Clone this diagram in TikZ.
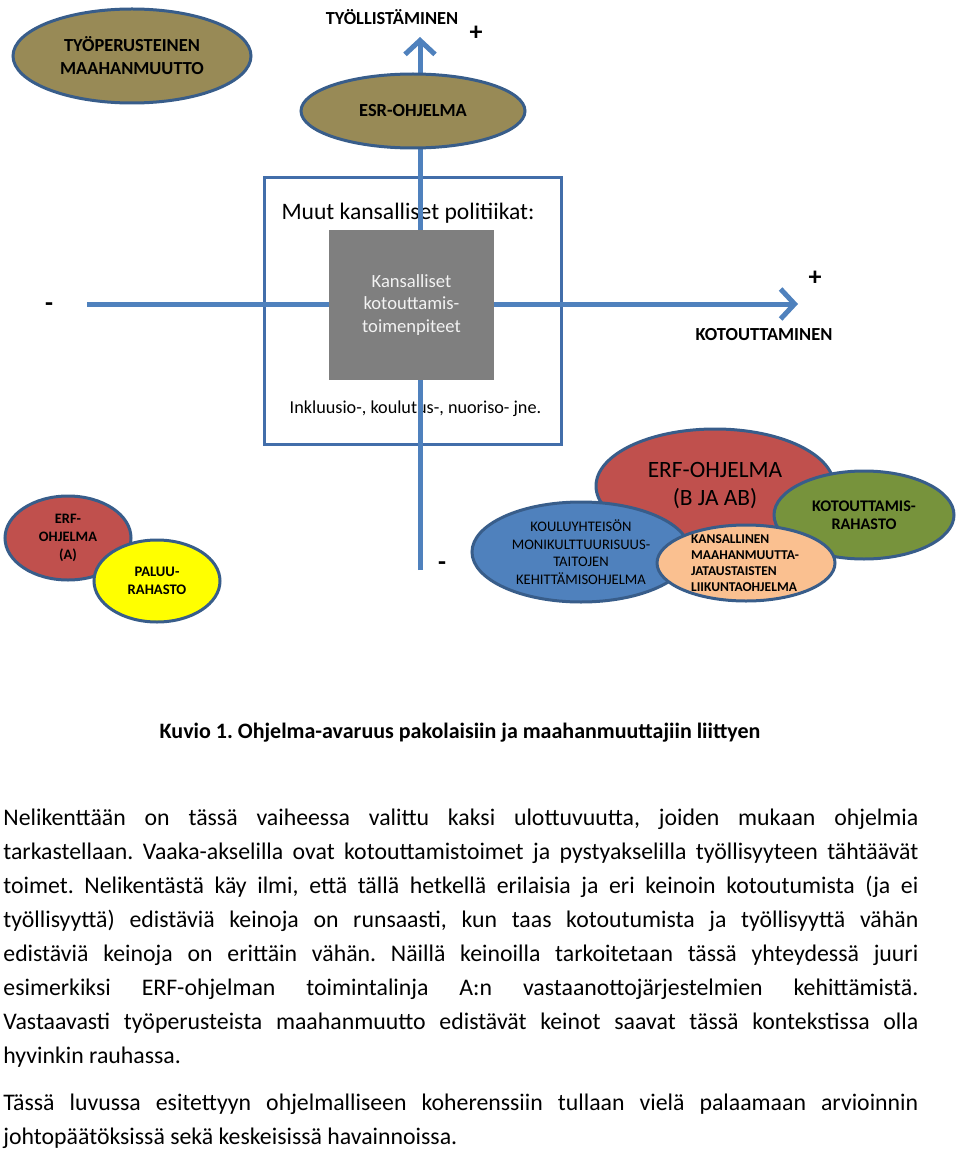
\documentclass[tikz,border=0pt]{standalone}
\usepackage{fontspec}
\setmainfont{Carlito}
\frenchspacing
\usepackage{xcolor}
\definecolor{axisblue}{RGB}{79,129,189}
\definecolor{frameblue}{RGB}{66,110,170}
\definecolor{edge}{RGB}{56,93,138}
\definecolor{tyofill}{RGB}{152,138,86}
\definecolor{erfred}{RGB}{192,80,77}
\definecolor{kotgreen}{RGB}{119,147,60}
\definecolor{peach}{RGB}{250,192,144}
\definecolor{paluuyellow}{RGB}{255,255,0}
\definecolor{koulublue}{RGB}{79,129,189}
\definecolor{boxgray}{RGB}{127,127,127}
\usepackage{tikz}
\usetikzlibrary{arrows.meta,shapes.geometric,positioning}

\begin{document}
\begin{tikzpicture}[x=0.5pt,y=-0.5pt,
  bubble/.style={ellipse,draw=edge,line width=1.5pt,inner sep=0pt,align=center},
  axis/.style={draw=axisblue,line width=2.5pt,-{Straight Barb[length=7pt,width=15pt]}},
  caps/.style={font=\bfseries\fontsize{9.2pt}{11.5pt}\selectfont,align=center},
  sign/.style={font=\bfseries\fontsize{13pt}{13pt}\selectfont,inner sep=0pt}]
  \useasboundingbox (0,0) rectangle (960,1155);

  % Frame: other national policies
  \node[draw=frameblue,line width=1.5pt,minimum width=148.5pt,minimum height=133pt] (natbox) at (412.5,311) {};
  \node[font=\fontsize{11.8pt}{14pt}\selectfont] (natpol) at (408,213) {Muut kansalliset politiikat:};
  \node[font=\fontsize{9.1pt}{11pt}\selectfont] (incl) at (415.5,409) {Inkluusio-, koulutus-, nuoriso- jne.};

  % Axes
  \coordinate (ybot) at (420,570);
  \coordinate (ytop) at (420,37);
  \coordinate (xleft) at (87,304);
  \coordinate (xright) at (798,304);
  \draw[axis] (ybot) -- (ytop);
  \draw[axis] (xleft) -- (xright);

  % National integration measures
  \node[fill=boxgray,text=white!95!black,align=center,minimum width=82.5pt,minimum height=75pt,
    font=\fontsize{9.3pt}{11.2pt}\selectfont] (natmeas) at (411.5,305) {Kansalliset\\kotouttamis-\\toimenpiteet};

  % Axis labels
  \node[caps] (empl) at (392,17) {TYÖLLISTÄMINEN};
  \node[sign] (yplus) at (476,33) {+};
  \node[sign] (yminus) at (442,566) {-};
  \node[caps] (integ) at (764,335) {KOTOUTTAMINEN};
  \node[sign] (xplus) at (815,278) {+};
  \node[sign] (xminus) at (49,307) {-};

  % Upper programmes
  \node[bubble,fill=tyofill,minimum width=119pt,minimum height=47pt,caps] (tyoper) at (132,56) {TYÖPERUSTEINEN\\MAAHANMUUTTO};
  \node[bubble,fill=tyofill,minimum width=112pt,minimum height=37pt,caps] (esr) at (413,111) {ESR-OHJELMA};

  % Lower left programmes
  \node[bubble,fill=erfred,minimum width=63pt,minimum height=42pt,
    font=\bfseries\fontsize{7.2pt}{9pt}\selectfont] (erfa) at (68,538) {ERF-\\OHJELMA\\(A)};
  \node[bubble,fill=paluuyellow,minimum width=63pt,minimum height=41pt,
    font=\bfseries\fontsize{7.3pt}{9pt}\selectfont] (paluu) at (157,581) {PALUU-\\RAHASTO};

  % Lower right programmes
  \node[bubble,fill=erfred,minimum width=119pt,minimum height=57pt,
    font=\fontsize{11.7pt}{14pt}\selectfont] (erfb) at (715,486) {ERF-OHJELMA\\(B JA AB)};
  \node[bubble,fill=koulublue,minimum width=109pt,minimum height=50pt,
    font=\fontsize{7.3pt}{8.8pt}\selectfont] (koulu) at (581,552) {KOULUYHTEISÖN\\MONIKULTTUURISUUS-\\TAITOJEN\\KEHITTÄMISOHJELMA};
  \node[bubble,fill=kotgreen,minimum width=90pt,minimum height=44pt,
    font=\bfseries\fontsize{8.1pt}{9pt}\selectfont] (kotra) at (864,515) {KOTOUTTAMIS-\\RAHASTO};
  \node[bubble,fill=peach,minimum width=89pt,minimum height=38pt] (liik) at (746,563) {};
  \node[align=left,inner sep=0pt,font=\bfseries\fontsize{6.75pt}{8pt}\selectfont] (liiktxt) at (745,563)
    {KANSALLINEN\\MAAHANMUUTTA-\\JATAUSTAISTEN\\LIIKUNTAOHJELMA};

  % Caption
  \node[font=\bfseries\fontsize{11pt}{13pt}\selectfont] (caption) at (460,733)
    {Kuvio 1. Ohjelma-avaruus pakolaisiin ja maahanmuuttajiin liittyen};

  % Body text
  \node[anchor=base west,inner sep=0pt,text width=457.5pt,align=justify,
    font=\fontsize{11.9pt}{17pt}\selectfont] (bodytext) at (3,825)
    {\tolerance=10000\hyphenpenalty=10000
    Nelikenttään on tässä vaiheessa valittu kaksi ulottuvuutta, joiden mukaan ohjelmia\linebreak
    tarkastellaan. Vaaka-akselilla ovat kotouttamistoimet ja pystyakselilla työllisyyteen tähtäävät\linebreak
    toimet. Nelikentästä käy ilmi, että tällä hetkellä erilaisia ja eri keinoin kotoutumista (ja ei\linebreak
    työllisyyttä) edistäviä keinoja on runsaasti, kun taas kotoutumista ja työllisyyttä vähän\linebreak
    edistäviä keinoja on erittäin vähän. Näillä keinoilla tarkoitetaan tässä yhteydessä juuri\linebreak
    esimerkiksi ERF-ohjelman toimintalinja A:n vastaanottojärjestelmien kehittämistä.\linebreak
    Vastaavasti työperusteista maahanmuutto edistävät keinot saavat tässä kontekstissa olla\linebreak
    hyvinkin rauhassa.\par\vspace{6.5pt}
    Tässä luvussa esitettyyn ohjelmalliseen koherenssiin tullaan vielä palaamaan arvioinnin\linebreak
    johtopäätöksissä sekä keskeisissä havainnoissa.};
\end{tikzpicture}
\end{document}
